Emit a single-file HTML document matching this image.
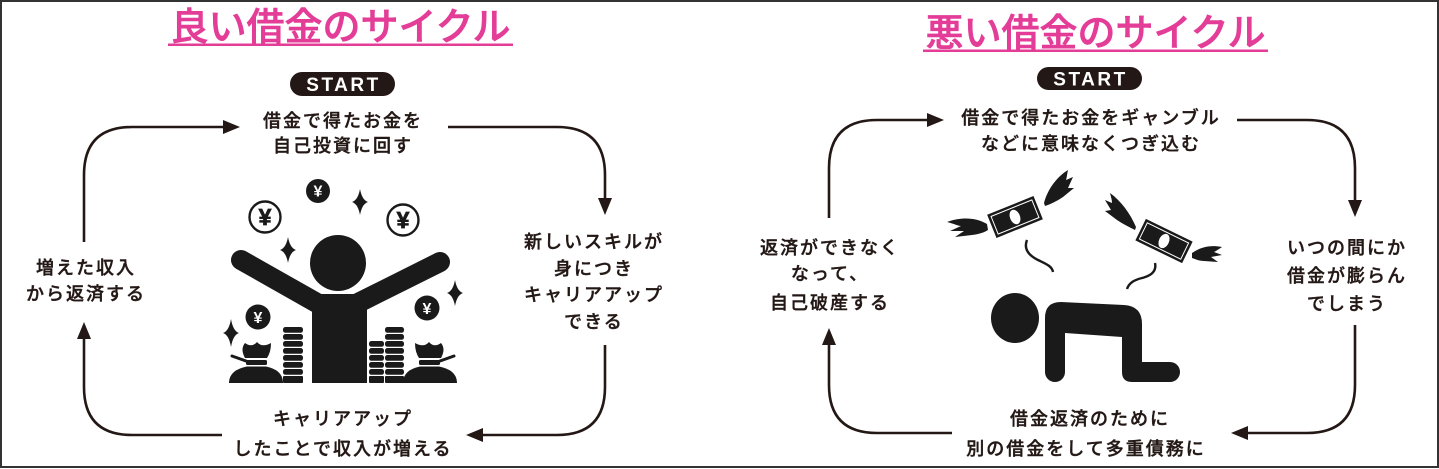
<!DOCTYPE html>
<html><head><meta charset="utf-8">
<style>
html,body{margin:0;padding:0;background:#fff;}
svg{display:block;}
text{font-family:"Liberation Sans","Noto Sans CJK JP",sans-serif;}
.t{font-size:18px;font-weight:500;fill:#231815;letter-spacing:2px;stroke:#231815;stroke-width:0.4px;}
.ttl{font-size:38px;font-weight:500;fill:#e33d98;stroke:#e33d98;stroke-width:0.6px;}
.st{font-family:"Liberation Sans",sans-serif;font-size:19px;font-weight:bold;fill:#fff;letter-spacing:2.5px;}
.ln{fill:none;stroke:#231815;stroke-width:2.6;}
.ah{fill:#231815;}
.ink{fill:#1a1a1a;}
</style></head>
<body>
<svg width="1439" height="469" viewBox="0 0 1439 469" xmlns="http://www.w3.org/2000/svg">
<rect x="1" y="1" width="1437" height="466" fill="#fff" stroke="#333" stroke-width="2"/>

<!-- ===== LEFT PANEL ===== -->
<text class="ttl" x="340.5" y="40" text-anchor="middle">良い借金のサイクル</text>
<rect x="168" y="43.5" width="345" height="2.5" fill="#e33d98"/>

<rect x="290" y="72" width="105" height="24" rx="12" fill="#231815"/>
<text class="st" x="343.5" y="91" text-anchor="middle">START</text>

<text class="t" x="343" y="127" text-anchor="middle">借金で得たお金を</text>
<text class="t" x="343" y="152" text-anchor="middle">自己投資に回す</text>

<text class="t" x="594" y="248" text-anchor="middle">新しいスキルが</text>
<text class="t" x="594" y="275" text-anchor="middle">身につき</text>
<text class="t" x="594" y="301" text-anchor="middle">キャリアアップ</text>
<text class="t" x="594" y="328" text-anchor="middle">できる</text>

<text class="t" x="343" y="425" text-anchor="middle">キャリアアップ</text>
<text class="t" x="343" y="455" text-anchor="middle">したことで収入が増える</text>

<text class="t" x="86" y="274" text-anchor="middle">増えた収入</text>
<text class="t" x="86" y="300" text-anchor="middle">から返済する</text>

<path class="ln" d="M84 242 V175 Q84 127 132 127 H225"/>
<polygon class="ah" points="240,127 223,120 223,134"/>
<path class="ln" d="M448 127 H557 Q605 127 605 175 V200"/>
<polygon class="ah" points="605,215 598,198 612,198"/>
<path class="ln" d="M605 345 V387 Q605 435 557 435 H481"/>
<polygon class="ah" points="466,435 483,428 483,442"/>
<path class="ln" d="M222 435 H132 Q84 435 84 387 V338"/>
<polygon class="ah" points="84,322 77,339 91,339"/>

<!-- left illustration -->
<g class="ink">
  <!-- coins -->
  <circle cx="318" cy="191" r="12"/>
  <text x="318" y="196.5" text-anchor="middle" font-size="16" font-weight="bold" fill="#fff">¥</text>
  <circle cx="265" cy="217" r="15.5" fill="#fff" stroke="#1a1a1a" stroke-width="2.4"/>
  <text x="265" y="225" text-anchor="middle" font-size="23" font-weight="bold" fill="#1a1a1a" stroke="#1a1a1a" stroke-width="0.8">¥</text>
  <circle cx="403" cy="220" r="15.5" fill="#fff" stroke="#1a1a1a" stroke-width="2.4"/>
  <text x="403" y="228" text-anchor="middle" font-size="23" font-weight="bold" fill="#1a1a1a" stroke="#1a1a1a" stroke-width="0.8">¥</text>
  <circle cx="258" cy="317" r="12.5"/>
  <text x="258" y="323" text-anchor="middle" font-size="16" font-weight="bold" fill="#fff">¥</text>
  <circle cx="427" cy="308" r="12.5"/>
  <text x="427" y="314" text-anchor="middle" font-size="16" font-weight="bold" fill="#fff">¥</text>
  <!-- sparkles -->
  <path d="M360 189 Q362 200 368 202 Q362 204 360 215 Q358 204 352 202 Q358 200 360 189 Z"/>
  <path d="M288 237 Q290 248 296 250 Q290 252 288 263 Q286 252 280 250 Q286 248 288 237 Z"/>
  <path d="M455 280 Q457 291 463 293 Q457 295 455 306 Q453 295 447 293 Q453 291 455 280 Z"/>
  <path d="M231 319 Q233 331 239 333 Q233 335 231 347 Q229 335 223 333 Q229 331 231 319 Z"/>
  <!-- person -->
  <circle cx="338" cy="263" r="28"/>
  <line x1="241" y1="260" x2="324" y2="307" stroke="#1a1a1a" stroke-width="20" stroke-linecap="round"/>
  <line x1="440" y1="262" x2="354" y2="305" stroke="#1a1a1a" stroke-width="20" stroke-linecap="round"/>
  <rect x="312" y="294" width="55" height="89"/>
  <!-- coin stacks -->
  <rect x="283" y="327" width="20" height="5.8" rx="2.5"/>
  <rect x="283" y="334" width="20" height="5.8" rx="2.5"/>
  <rect x="283" y="341" width="20" height="5.8" rx="2.5"/>
  <rect x="283" y="348" width="20" height="5.8" rx="2.5"/>
  <rect x="283" y="355" width="20" height="5.8" rx="2.5"/>
  <rect x="283" y="362" width="20" height="5.8" rx="2.5"/>
  <rect x="283" y="369" width="20" height="5.8" rx="2.5"/>
  <rect x="283" y="376" width="20" height="7" rx="1"/>
  <rect x="385" y="327" width="19" height="5.8" rx="2.5"/>
  <rect x="385" y="334" width="19" height="5.8" rx="2.5"/>
  <rect x="385" y="341" width="19" height="5.8" rx="2.5"/>
  <rect x="385" y="348" width="19" height="5.8" rx="2.5"/>
  <rect x="385" y="355" width="19" height="5.8" rx="2.5"/>
  <rect x="385" y="362" width="19" height="5.8" rx="2.5"/>
  <rect x="385" y="369" width="19" height="5.8" rx="2.5"/>
  <rect x="385" y="376" width="19" height="7" rx="1"/>
  <rect x="369" y="341" width="15" height="5.8" rx="2.5"/>
  <rect x="369" y="348" width="15" height="5.8" rx="2.5"/>
  <rect x="369" y="355" width="15" height="5.8" rx="2.5"/>
  <rect x="369" y="362" width="15" height="5.8" rx="2.5"/>
  <rect x="369" y="369" width="15" height="5.8" rx="2.5"/>
  <rect x="369" y="376" width="15" height="7" rx="1"/>
  <!-- money bags -->
  <g id="bag">
    <path d="M229 383 Q229 370 247 366.5 L266 366.5 Q283 370 283 383 Z"/>
    <rect x="246" y="360" width="21" height="5" rx="1.5"/>
    <path d="M245 358 Q240 349 245 343 Q252 348 257 342 Q262 348 271 343 Q271 352 267 358 Z"/>
    <path d="M246 361 L232 356" stroke="#1a1a1a" stroke-width="3" stroke-linecap="round"/>
  </g>
  <use href="#bag" transform="translate(686,0) scale(-1,1)"/>
</g>

<!-- ===== RIGHT PANEL ===== -->
<text class="ttl" x="1095.5" y="46" text-anchor="middle">悪い借金のサイクル</text>
<rect x="923" y="49.5" width="345" height="2.5" fill="#e33d98"/>

<rect x="1037" y="67" width="105" height="23" rx="11.5" fill="#231815"/>
<text class="st" x="1090.5" y="85.5" text-anchor="middle">START</text>

<text class="t" x="1091" y="124" text-anchor="middle">借金で得たお金をギャンブル</text>
<text class="t" x="1091" y="150" text-anchor="middle">などに意味なくつぎ込む</text>

<text class="t" x="1347" y="254" text-anchor="middle">いつの間にか</text>
<text class="t" x="1347" y="282" text-anchor="middle">借金が膨らん</text>
<text class="t" x="1347" y="310" text-anchor="middle">でしまう</text>

<text class="t" x="1090" y="425" text-anchor="middle">借金返済のために</text>
<text class="t" x="1086" y="455" text-anchor="middle">別の借金をして多重債務に</text>

<text class="t" x="830" y="254" text-anchor="middle">返済ができなく</text>
<text class="t" x="830" y="280" text-anchor="middle">なって、</text>
<text class="t" x="830" y="309" text-anchor="middle">自己破産する</text>

<path class="ln" d="M829 218 V168 Q829 120 877 120 H929"/>
<polygon class="ah" points="944,120 927,113 927,127"/>
<path class="ln" d="M1237 120 H1307 Q1355 120 1355 168 V202"/>
<polygon class="ah" points="1355,217 1348,200 1362,200"/>
<path class="ln" d="M1355 325 V385 Q1355 433 1307 433 H1246"/>
<polygon class="ah" points="1231,433 1248,426 1248,440"/>
<path class="ln" d="M952 433 H877 Q829 433 829 385 V343"/>
<polygon class="ah" points="829,328 822,345 836,345"/>

<!-- right illustration -->
<g class="ink">
  <!-- left bill -->
  <g transform="translate(1015,217) rotate(-22)">
    <rect x="-25" y="-12.5" width="50" height="25"/>
    <rect x="-22" y="-9.5" width="44" height="19" fill="none" stroke="#fff" stroke-width="1"/>
    <ellipse cx="0" cy="0" rx="5" ry="7.5" fill="#fff"/>
  </g>
  <path d="M987 224 C976 217 960 217 947 222 C955 224 958 226 961 226 L950 231 L964 231 L955 237 L972 235 C980 234 985 232 988 230 Z"/>
  <path d="M1044 203 C1048 188 1058 176 1068 170 C1067 174 1067 177 1066 180 L1073 177 L1068 188 L1074 188 L1063 197 C1057 201 1051 204 1045 206 Z"/>
  <!-- right bill -->
  <g transform="translate(1164,241) rotate(26)">
    <rect x="-26" y="-12" width="52" height="24"/>
    <rect x="-23" y="-9" width="46" height="18" fill="none" stroke="#fff" stroke-width="1"/>
    <ellipse cx="0" cy="0" rx="5" ry="7.5" fill="#fff"/>
  </g>
  <path d="M1136 227 C1130 213 1121 201 1110 193 C1111 197 1112 200 1112 203 L1105 200 L1111 210 L1105 211 L1117 220 C1123 224 1129 227 1135 230 Z"/>
  <path d="M1192 253 C1202 246 1212 245 1222 247 C1219 249 1216 251 1214 252 L1222 255 L1211 257 L1218 262 L1204 261 C1199 261 1195 259 1192 258 Z"/>
  <!-- squiggles -->
  <path d="M1027 240 C1023 250 1030 256 1038 260 C1046 264 1052 266 1053 272" fill="none" stroke="#1a1a1a" stroke-width="2.4"/>
  <path d="M1155 263 C1157 272 1150 276 1142 278 C1134 280 1129 283 1127 289" fill="none" stroke="#1a1a1a" stroke-width="2.4"/>
  <!-- person -->
  <ellipse cx="1015" cy="318" rx="24" ry="25"/>
  <path d="M1045 372 L1045 318 Q1045 302 1061 302 L1124 305 Q1142 306 1142 324 L1142 362 L1170 362 A10 10 0 0 1 1170 382 L1132 382 Q1122 382 1122 372 L1122 337 L1065 333 L1065 372 A10 10 0 0 1 1045 372 Z"/>
</g>
</svg>
</body></html>
